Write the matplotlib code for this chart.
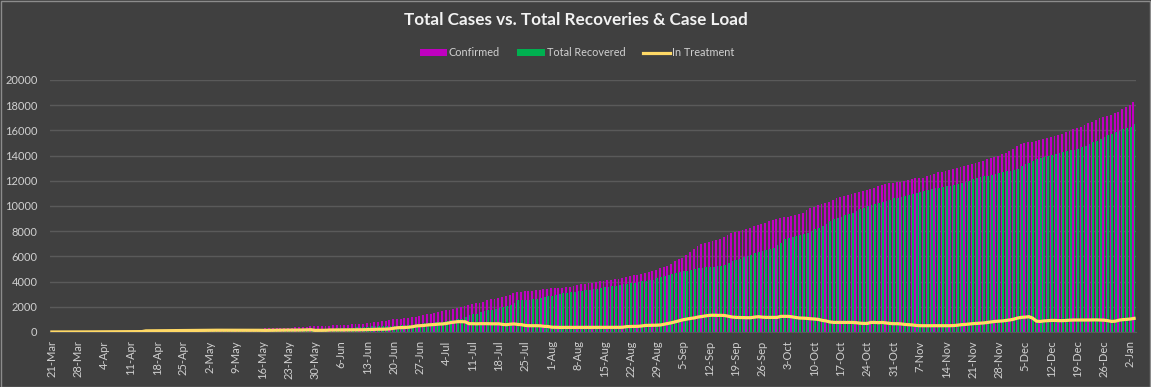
import matplotlib
matplotlib.use('Agg')
import matplotlib.pyplot as plt
from matplotlib.patches import Patch, Rectangle
from matplotlib.lines import Line2D
import numpy as np
import pandas as pd

# ---------------- data (daily, 21-Mar-2020 .. 3-Jan-2021) ----------------
dates = pd.date_range('2020-03-21', '2021-01-03', freq='D')

confirmed = [
    1, 1, 2, 3, 3, 4, 5,
    6, 7, 8, 9, 10, 12, 14,
    15, 16, 17, 18, 20, 22, 24,
    25, 27, 30, 34, 92, 96, 100,
    104, 108, 112, 118, 124, 130, 138,
    150, 165, 180, 190, 200, 210, 220,
    230, 240, 248, 255, 258, 260, 262,
    262, 264, 265, 266, 268, 270, 272,
    275, 285, 300, 315, 330, 340, 345,
    350, 355, 360, 370, 390, 410, 440,
    455, 470, 485, 500, 510, 525, 545,
    565, 580, 595, 610, 630, 650, 670,
    700, 740, 780, 820, 860, 900, 960,
    1000, 1030, 1060, 1090, 1130, 1170, 1230,
    1300, 1340, 1400, 1450, 1530, 1600, 1680,
    1740, 1780, 1840, 1920, 1990, 2080, 2170,
    2220, 2270, 2320, 2420, 2520, 2580, 2650,
    2710, 2790, 2880, 2970, 3060, 3150, 3190,
    3220, 3240, 3280, 3320, 3370, 3410, 3440,
    3460, 3480, 3500, 3530, 3560, 3600, 3660,
    3740, 3780, 3810, 3850, 3900, 3960, 4030,
    4070, 4110, 4160, 4200, 4230, 4300, 4380,
    4430, 4500, 4560, 4640, 4700, 4780, 4860,
    4960, 5050, 5140, 5250, 5420, 5600, 5780,
    5900, 6100, 6320, 6550, 6800, 6950, 7080,
    7150, 7220, 7320, 7420, 7550, 7700, 7850,
    7950, 8050, 8130, 8200, 8280, 8380, 8480,
    8580, 8680, 8780, 8880, 8970, 9060, 9100,
    9150, 9200, 9280, 9340, 9480, 9650, 9820,
    9950, 10050, 10150, 10250, 10320, 10450, 10600,
    10700, 10780, 10850, 10950, 11050, 11150, 11230,
    11270, 11350, 11450, 11550, 11650, 11720, 11800,
    11840, 11880, 11920, 11980, 12050, 12120, 12200,
    12230, 12260, 12350, 12450, 12550, 12660, 12720,
    12780, 12840, 12900, 12980, 13060, 13150, 13240,
    13320, 13400, 13500, 13600, 13720, 13820, 13920,
    14000, 14100, 14190, 14350, 14550, 14750, 14910,
    15000, 15050, 15100, 15170, 15250, 15330, 15420,
    15480, 15520, 15600, 15720, 15850, 15980, 16100,
    16200, 16300, 16420, 16550, 16680, 16800, 16950,
    17050, 17110, 17220, 17350, 17500, 17680, 17830,
    18000, 18230,
]

recovered = [
    0, 0, 0, 0, 0, 0, 0,
    0, 0, 0, 0, 0, 0, 0,
    0, 0, 0, 0, 0, 0, 0,
    0, 0, 0, 0, 1, 2, 3,
    4, 5, 6, 8, 10, 12, 15,
    18, 22, 26, 30, 35, 40, 45,
    50, 55, 60, 65, 70, 75, 80,
    85, 90, 95, 100, 110, 120, 130,
    140, 145, 150, 155, 160, 170, 175,
    180, 185, 190, 195, 200, 205, 210,
    220, 230, 240, 250, 260, 270, 280,
    290, 300, 320, 340, 360, 380, 400,
    420, 450, 480, 500, 500, 500, 500,
    505, 510, 520, 540, 560, 580, 600,
    640, 680, 700, 740, 760, 780, 820,
    880, 930, 960, 1000, 1050, 1200, 1380,
    1400, 1440, 1550, 1650, 1720, 1780, 1850,
    1910, 1980, 2060, 2170, 2300, 2520, 2540,
    2560, 2570, 2600, 2650, 2710, 2760, 2820,
    2860, 2950, 3050, 3100, 3130, 3150, 3180,
    3230, 3280, 3330, 3370, 3410, 3450, 3500,
    3550, 3600, 3630, 3680, 3730, 3770, 3830,
    3880, 3920, 3980, 4030, 4080, 4130, 4160,
    4300, 4380, 4450, 4520, 4600, 4680, 4760,
    4830, 4880, 4950, 5000, 5060, 5090, 5120,
    5150, 5180, 5200, 5250, 5350, 5480, 5620,
    5720, 5820, 5920, 6020, 6150, 6250, 6350,
    6420, 6500, 6550, 6700, 6900, 7100, 7350,
    7450, 7550, 7620, 7700, 7750, 7850, 7980,
    8150, 8280, 8450, 8600, 8780, 8940, 9050,
    9150, 9250, 9340, 9450, 9600, 9750, 9880,
    10000, 10080, 10160, 10250, 10330, 10400, 10480,
    10600, 10670, 10720, 10770, 10850, 10950, 11050,
    11120, 11180, 11250, 11320, 11400, 11460, 11500,
    11560, 11620, 11680, 11730, 11800, 11900, 12000,
    12180, 12250, 12300, 12350, 12400, 12450, 12520,
    12600, 12680, 12750, 12790, 12880, 12960, 13140,
    13300, 13450, 13600, 13700, 13770, 13850, 13950,
    14050, 14110, 14200, 14280, 14350, 14420, 14460,
    14550, 14650, 14750, 14900, 15050, 15170, 15350,
    15500, 15630, 15750, 15880, 15980, 16080, 16160,
    16300, 16500,
]

in_treatment = [
    1, 1, 2, 3, 3, 4, 5,
    6, 7, 8, 9, 10, 12, 14,
    15, 16, 17, 18, 20, 22, 24,
    25, 27, 30, 34, 90, 93, 96,
    99, 102, 105, 108, 110, 112, 115,
    120, 125, 130, 135, 140, 140, 140,
    140, 140, 140, 140, 140, 140, 140,
    140, 140, 140, 135, 135, 135, 135,
    130, 130, 135, 140, 150, 150, 150,
    150, 150, 150, 155, 160, 170, 180,
    130, 130, 135, 140, 160, 160, 160,
    165, 165, 170, 170, 175, 175, 180,
    190, 200, 210, 220, 220, 230, 250,
    300, 340, 350, 360, 380, 420, 480,
    500, 520, 560, 580, 600, 630, 640,
    680, 740, 780, 820, 820, 810, 660,
    660, 650, 660, 660, 660, 650, 650,
    650, 600, 580, 620, 640, 600, 580,
    520, 500, 500, 500, 490, 450, 440,
    380, 370, 365, 365, 360, 360, 365,
    365, 365, 360, 360, 365, 370, 370,
    365, 365, 370, 370, 370, 380, 430,
    440, 445, 450, 480, 520, 525, 530,
    540, 560, 620, 680, 740, 820, 900,
    975, 1030, 1080, 1120, 1190, 1230, 1280,
    1320, 1330, 1320, 1320, 1310, 1250, 1190,
    1160, 1150, 1140, 1135, 1135, 1180, 1215,
    1180, 1160, 1160, 1160, 1160, 1240, 1240,
    1240, 1200, 1150, 1110, 1100, 1080, 1050,
    1030, 1000, 920, 880, 800, 760, 760,
    760, 760, 760, 760, 740, 700, 680,
    680, 760, 760, 740, 760, 720, 680,
    660, 660, 640, 600, 580, 560, 520,
    500, 500, 500, 500, 500, 500, 500,
    500, 500, 510, 540, 580, 600, 630,
    660, 680, 700, 720, 760, 800, 840,
    860, 880, 920, 960, 1020, 1110, 1160,
    1180, 1215, 1100, 860, 840, 880, 900,
    920, 920, 900, 900, 920, 940, 950,
    950, 950, 950, 950, 960, 960, 950,
    940, 900, 840, 860, 940, 980, 1000,
    1030, 1080,
]

tick_labels = ['21-Mar', '28-Mar', '4-Apr', '11-Apr', '18-Apr', '25-Apr', '2-May',
               '9-May', '16-May', '23-May', '30-May', '6-Jun', '13-Jun', '20-Jun',
               '27-Jun', '4-Jul', '11-Jul', '18-Jul', '25-Jul', '1-Aug', '8-Aug',
               '15-Aug', '22-Aug', '29-Aug', '5-Sep', '12-Sep', '19-Sep', '26-Sep',
               '3-Oct', '10-Oct', '17-Oct', '24-Oct', '31-Oct', '7-Nov', '14-Nov',
               '21-Nov', '28-Nov', '5-Dec', '12-Dec', '19-Dec', '26-Dec', '2-Jan']
y_ticks = [0, 2000, 4000, 6000, 8000, 10000, 12000, 14000, 16000, 18000, 20000]

n = len(dates)
assert len(confirmed) == n and len(recovered) == n and len(in_treatment) == n

# ---------------- styling ----------------
BG = '#404040'
C_MAG = '#C000C0'
C_GRN = '#00B050'
C_YEL = '#FFD966'
C_TXT = '#D0D0D0'
C_GRID = '#5A5A5A'
FONT = 'Lato'

plt.rcParams['font.family'] = [FONT, 'DejaVu Sans']

W, H = 1151, 387
fig = plt.figure(figsize=(W / 100, H / 100), dpi=100, facecolor=BG)
ax = fig.add_axes([50 / W, 1 - 332 / H, 1086 / W, 252 / H])
ax.set_facecolor(BG)

x = np.arange(n)
day_labels = [f"{d.day}-{d.strftime('%b')}" for d in dates]
tick_pos = [day_labels.index(t) for t in tick_labels]

ax.bar(x - 0.2, confirmed, width=0.5, color=C_MAG, linewidth=0, zorder=2,
       antialiased=False)
ax.bar(x + 0.12, recovered, width=0.48, color=C_GRN, linewidth=0, zorder=3,
       antialiased=False)
ax.plot(x, in_treatment, color=C_YEL, lw=2.3, zorder=4, solid_joinstyle='round')

ax.set_xlim(-0.5, n - 0.5)
ax.set_ylim(0, 20000)
ax.set_yticks(y_ticks)
ax.set_yticklabels([str(v) for v in y_ticks])
ax.set_xticks(tick_pos)
ax.set_xticklabels(tick_labels, rotation=90, ha='center', va='top')

ax.yaxis.grid(True, color=C_GRID, lw=1)
ax.set_axisbelow(True)
for s in ['top', 'right', 'left']:
    ax.spines[s].set_visible(False)
ax.spines['bottom'].set_color(C_GRID)
ax.tick_params(axis='both', length=0, colors=C_TXT, labelsize=8)
ax.tick_params(axis='y', pad=9)
ax.tick_params(axis='x', pad=6)

fig.text(0.5, 1 - 20 / H, 'Total Cases vs. Total Recoveries & Case Load',
         ha='center', va='center', color='#F2F2F2', fontsize=12.3, fontweight='bold')

handles = [Patch(facecolor=C_MAG, edgecolor='none'),
           Patch(facecolor=C_GRN, edgecolor='none'),
           Line2D([0], [0], color=C_YEL, lw=2.3)]
leg = fig.legend(handles, ['Confirmed', 'Total Recovered', 'In Treatment'],
                 loc='center', bbox_to_anchor=(577 / W, 1 - 53 / H), ncol=3,
                 frameon=False, fontsize=7.8, handlelength=2.5, handleheight=0.6,
                 handletextpad=0.2, columnspacing=1.6, borderpad=0)
for t in leg.get_texts():
    t.set_color(C_TXT)

fig.patches.append(Rectangle((0.5 / W, 0.5 / H), 1 - 1.5 / W, 1 - 1.5 / H,
                             transform=fig.transFigure, fill=False,
                             edgecolor='#8C8C8C', lw=1))

fig.savefig('out.png', dpi=100, facecolor=BG)
